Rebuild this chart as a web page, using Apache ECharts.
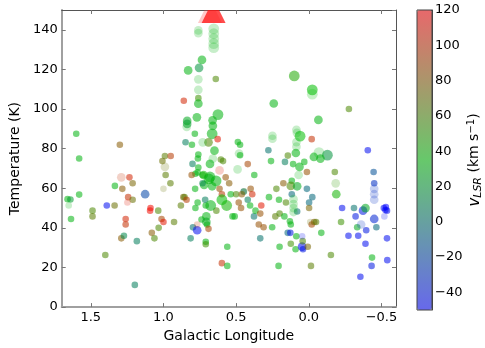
<!DOCTYPE html>
<html>
<head>
<meta charset="utf-8">
<script src="https://cdn.jsdelivr.net/npm/echarts@6/dist/echarts.min.js"></script>
<style>
  html, body { margin: 0; padding: 0; background: #fff; }
  #chart { width: 485px; height: 348px; }
</style>
</head>
<body>
<div id="chart"></div>
<script>
// rows: [galactic longitude (deg), temperature (K), v_LSR (km/s), mass class]
var detected = [
    [1.60, 87.5, 30, 1], [1.58, 75, 30, 1], [1.30, 82, 80, 1],
    [0.735, 124.8, 30, 2], [0.83, 119.5, 30, 2], [0.755, 120.8, 15, 2],
    [0.64, 115.2, 60, 1], [0.76, 105.5, 55, 1], [0.76, 102.7, 30, 2],
    [0.86, 104.2, 105, 1], [0.625, 97.2, 30, 3], [0.77, 95.8, 30, 2],
    [0.662, 94.3, 30, 2], [0.837, 94, 25, 2], [0.837, 92.5, 20, 2],
    [0.66, 91.5, 30, 2], [0.665, 87.5, 30, 3], [0.784, 87.5, 30, 1],
    [0.848, 83.2, 5, 1], [0.804, 82, 30, 1], [0.69, 83.2, 60, 2],
    [0.627, 84.8, 110, 1], [0.649, 79, 30, 2], [0.76, 77, 30, 1],
    [0.763, 75, 30, 1], [0.605, 74.5, 60, 1], [0.59, 73.7, 60, 1],
    [0.68, 72.3, 30, 2], [0.80, 72.3, 5, 1], [0.76, 70.5, 30, 1],
    [0.765, 68, 30, 1], [0.78, 67.3, 30, 1], [0.806, 66.7, 85, 1],
    [0.73, 66.7, 30, 1], [0.68, 65.7, 30, 3], [0.572, 65.5, 85, 1],
    [0.99, 76.3, 65, 1], [0.95, 76.3, 95, 1], [1.007, 73.7, 70, 1],
    [0.985, 66.7, 65, 1], [1.234, 65.5, 105, 1], [0.488, 83.3, 30, 1],
    [0.473, 82, 30, 1], [0.473, 76.7, 30, 1], [0.42, 72.2, 90, 1],
    [0.375, 66.7, 30, 1], [0.10, 116.7, 45, 3], [-0.024, 109.7, 35, 3],
    [0.241, 102.8, 30, 2], [-0.276, 100, 60, 1], [-0.066, 94.5, 30, 2],
    [0.06, 86.3, 35, 3], [-0.02, 84.8, 100, 1], [0.278, 79.2, 0, 1],
    [0.144, 76.5, 60, 1], [0.089, 77.8, 30, 2], [-0.035, 75.8, 30, 2],
    [-0.128, 76.7, 15, 3], [-0.08, 75, 30, 2], [-0.406, 79.2, -45, 1],
    [0.26, 73.7, 30, 1], [0.164, 73.3, 5, 1], [0.108, 72.2, 30, 1],
    [0.064, 70.8, 30, 2], [0.031, 73.3, 30, 1], [0.013, 68.2, 85, 1],
    [-0.179, 68.2, 60, 1], [-0.446, 68.2, -15, 1],
    [1.66, 54.5, 30, 1], [1.64, 54.3, 20, 1], [1.636, 44.5, 30, 1],
    [1.58, 56.8, 30, 1], [1.488, 48.7, 60, 1], [1.488, 45.8, 65, 1],
    [1.39, 51.3, -45, 1], [1.336, 51.3, 70, 1], [1.334, 61.2, 30, 1],
    [1.283, 59.7, 80, 1], [1.212, 62.5, 75, 1], [1.126, 57, -20, 2],
    [1.243, 55.5, 100, 1], [1.212, 54.2, 70, 1], [1.26, 44.5, 105, 1],
    [1.26, 41.7, 100, 1], [1.29, 34.7, 80, 1], [1.272, 36, 10, 1],
    [1.183, 33.3, 5, 1], [1.40, 26.3, 60, 1], [1.197, 11.2, 5, 1],
    [1.089, 50, 115, 1], [1.092, 48.7, 115, 1], [1.036, 48.7, 60, 1],
    [1.08, 37.5, 80, 1], [1.062, 34.7, 60, 1], [1.033, 40, 60, 1],
    [1.013, 44.5, 90, 1], [1.0, 43, 110, 1], [0.952, 62.5, 65, 1],
    [0.927, 43, 65, 1], [0.88, 51.3, 65, 1], [0.863, 55.5, 75, 1],
    [0.855, 55.5, 65, 1], [0.841, 54.2, 95, 1], [0.813, 34.7, 5, 1],
    [0.782, 59.7, 30, 1], [0.78, 50, 30, 1], [0.765, 52.8, 30, 1],
    [0.797, 40.3, 0, 1], [0.768, 38.8, -45, 2], [0.738, 44.2, 30, 1],
    [0.724, 66.7, 40, 2], [0.72, 61.7, 30, 2], [0.709, 51.3, 30, 1],
    [0.705, 45.8, 30, 2], [0.705, 43, 25, 2], [0.70, 41.7, 30, 1],
    [0.69, 39.5, 90, 1], [0.709, 33, 30, 1], [0.709, 31.7, 55, 1],
    [0.687, 64.7, 30, 3], [0.638, 63.7, 30, 3], [0.665, 61, 30, 2],
    [0.636, 48.7, 60, 1], [0.614, 59.7, 85, 1], [0.598, 57, 95, 1],
    [0.598, 54.2, 35, 3], [0.565, 51.3, 40, 3], [0.548, 62.5, 80, 1],
    [0.598, 22.2, 100, 1], [0.561, 30.5, 30, 1], [0.561, 20.8, 30, 1],
    [0.537, 57, 30, 1], [0.51, 45.8, 30, 1], [0.50, 57, 60, 1],
    [0.482, 52.8, 85, 1], [0.466, 50, 85, 1], [0.448, 58.3, 0, 1],
    [0.42, 54.2, 5, 1], [0.40, 59.7, 85, 1], [0.389, 57, 105, 1],
    [0.377, 45.8, 0, 1], [0.367, 48.7, 30, 1], [0.713, 54.2, 5, 1],
    [0.731, 62.5, 10, 1], [0.675, 51.3, 30, 3], [0.525, 45.8, 30, 1],
    [0.461, 57, 80, 1], [0.404, 51.3, 30, 1], [0.334, 47.2, 85, 1],
    [0.327, 51.3, 110, 1], [0.344, 41.7, 85, 1], [0.311, 40.3, 85, 1],
    [0.334, 34.7, 0, 1], [0.274, 55.5, 30, 1], [0.252, 40.3, 30, 1],
    [0.223, 59.7, 60, 1], [0.205, 54.2, 30, 1], [0.23, 45.8, 65, 1],
    [0.201, 47.2, 60, 1], [0.201, 30.5, 30, 1], [0.208, 20.8, 30, 1],
    [0.175, 62.5, 80, 1], [0.157, 52.8, 60, 1], [0.168, 45.8, 30, 1],
    [0.145, 37.5, -5, 1], [0.127, 37.5, -40, 1], [0.124, 32, 55, 1],
    [0.124, 41.7, 30, 1], [0.13, 43.3, 30, 1], [0.117, 57, -5, 1],
    [0.117, 63.8, 30, 1], [0.124, 61.2, 60, 2], [0.091, 29.2, 30, 1],
    [0.08, 61, 25, 2], [0.08, 48.3, 0, 1], [0.086, 35.8, 30, 1],
    [0.046, 30.5, -45, 2], [0.04, 29.2, -40, 1], [0.042, 33.3, 60, 1],
    [0.013, 59.7, -5, 1], [-0.002, 52.8, -5, 1], [-0.024, 55.5, -5, 1],
    [-0.002, 50, 75, 1], [0.007, 30.5, 75, 1], [-0.015, 20.8, 65, 1],
    [-0.02, 41.7, 90, 1], [-0.037, 43, 80, 1], [-0.05, 43, 65, 1],
    [-0.086, 37.5, 30, 1], [-0.152, 26.3, 60, 1], [-0.189, 57, 40, 2],
    [-0.222, 43, 55, 1], [-0.229, 50, -45, 1], [-0.273, 36, -45, 1],
    [-0.311, 50, 0, 1], [-0.322, 45.8, -40, 1], [-0.333, 40.3, 25, 1],
    [-0.34, 36, -45, 1], [-0.373, 48.7, -40, 2], [-0.39, 50, 25, 2],
    [-0.395, 38.8, -40, 1], [-0.39, 32, -45, 1], [-0.355, 15.3, -45, 1],
    [-0.435, 25, 30, 1], [-0.432, 20.8, -40, 1], [-0.45, 62.5, -30, 1],
    [-0.45, 44.5, -35, 2], [-0.465, 40.3, -5, 1], [-0.516, 50, -45, 1],
    [-0.527, 49, -50, 1], [-0.538, 48.7, -45, 1], [-0.53, 50.5, -50, 1],
    [-0.538, 34.7, -45, 1], [-0.54, 23.7, -45, 1]
];

// weak / tentative components, drawn fainter
var faint = [
    [0.76, 139.7, 30, 2], [0.76, 138.3, 30, 2], [0.654, 140.5, 30, 3],
    [0.654, 138, 30, 3], [0.654, 135.5, 30, 3], [0.654, 133, 30, 3],
    [0.654, 131, 30, 3], [0.76, 115, 30, 2], [0.76, 109.7, 30, 2],
    [0.84, 91, 30, 2], [0.73, 83.2, 30, 2], [0.66, 75, 30, 2],
    [0.614, 69, 110, 2], [0.99, 70.8, 70, 2], [1.29, 65.5, 100, 2],
    [0.48, 77.5, 30, 2], [0.49, 69.5, 30, 2], [-0.024, 107.5, 35, 3],
    [0.25, 86.5, 30, 2], [0.25, 85, 30, 2], [0.082, 88, 30, 2],
    [0.085, 89.5, 30, 2], [0.085, 81, 30, 2], [0.085, 83.3, 30, 2],
    [-0.07, 78, 30, 3], [1.652, 51.3, 30, 1], [1.248, 52.8, 110, 1],
    [1.0, 59.7, 70, 1], [0.768, 41.7, 100, 1], [0.445, 58.5, 60, 1],
    [0.105, 54.5, 30, 2], [0.105, 52, 30, 2], [0.105, 50, 30, 2],
    [0.105, 48, 30, 2], [0.046, 35.8, -45, 1], [-0.01, 43, 70, 1],
    [-0.185, 62.5, 50, 2], [-0.36, 41.7, -30, 2], [-0.45, 59.7, -30, 2],
    [-0.45, 57, -30, 2], [-0.45, 54.2, -30, 2], [-0.52, 45.8, -45, 1],
    [0.07, 66.7, 30, 2]
];

// off-scale hot cores (T > 150 K)
var peakLon = [0.68, 0.655];
var peakTemp = [150, 150];

var lonTicks = [-0.5, 0, 0.5, 1.0, 1.5];
var cbTicks = [-40, -20, 0, 20, 40, 60, 80, 100, 120];

function fmtLon(v) {
    return Number(v).toFixed(1).replace('-', '\u2212');
}
function fmtInt(v) {
    return String(v).replace('-', '\u2212');
}
function size(d) {
    return 4.5 + 2.1 * d[3];
}

var myChart = echarts.init(document.getElementById('chart'));

var option = {
    animation: false,
    textStyle: { fontFamily: 'DejaVu Sans', color: '#000' },
    grid: [
        { left: 47, right: 89, top: 10, bottom: 38 },
        { left: 417, width: 15, top: 10, height: 300, show: true, borderColor: '#444', borderWidth: 1, z: 10 }
    ],
    xAxis: [
        {
            gridIndex: 0, type: 'value', min: -0.6, max: 1.7, inverse: true,
            name: 'Galactic Longitude', nameLocation: 'middle', nameGap: 17,
            nameTextStyle: { fontSize: 14, color: '#000' },
            axisLine: { onZero: false, lineStyle: { color: '#a0a0a0', width: 2 } },
            axisTick: { inside: true, length: 4, customValues: lonTicks, lineStyle: { color: '#777' } },
            axisLabel: { margin: 4, fontSize: 13, color: '#000', customValues: lonTicks, formatter: fmtLon },
            splitLine: { show: false }
        },
        {
            gridIndex: 0, type: 'value', min: -0.6, max: 1.7, inverse: true, position: 'top',
            axisLine: { onZero: false, lineStyle: { color: '#555', width: 1 } },
            axisTick: { inside: true, length: 4, customValues: lonTicks, lineStyle: { color: '#777' } },
            axisLabel: { show: false },
            splitLine: { show: false }
        },
        { gridIndex: 1, type: 'value', min: 0, max: 1, show: false }
    ],
    yAxis: [
        {
            gridIndex: 0, type: 'value', min: 0, max: 150, interval: 20,
            name: 'Temperature (K)', nameLocation: 'middle', nameGap: 28, nameRotate: 90,
            nameTextStyle: { fontSize: 14, color: '#000' },
            axisLine: { show: true, onZero: false, lineStyle: { color: '#a0a0a0', width: 2 } },
            axisTick: { show: true, inside: true, length: 4, lineStyle: { color: '#777' } },
            axisLabel: { margin: 4, fontSize: 13, color: '#000', showMaxLabel: false },
            splitLine: { show: false }
        },
        {
            gridIndex: 0, type: 'value', min: 0, max: 150, interval: 20, position: 'right',
            axisLine: { show: true, onZero: false, lineStyle: { color: '#555', width: 1 } },
            axisTick: { show: true, inside: true, length: 4, lineStyle: { color: '#777' } },
            axisLabel: { show: false },
            splitLine: { show: false }
        },
        {
            gridIndex: 1, type: 'value', min: -50, max: 120, position: 'right',
            name: '{it|v}{sub|LSR} (km s{sup|\u22121})',
            nameLocation: 'middle', nameGap: 30, nameRotate: 90,
            nameTextStyle: {
                fontSize: 14, color: '#000',
                rich: {
                    it: { fontSize: 15, fontStyle: 'italic', fontFamily: 'DejaVu Sans' },
                    sub: { fontSize: 11, fontStyle: 'italic', fontFamily: 'DejaVu Sans', padding: [7, 0, 0, 0] },
                    sup: { fontSize: 10, fontFamily: 'DejaVu Sans', padding: [0, 0, 7, 0] }
                }
            },
            axisLine: { show: true, onZero: false, lineStyle: { color: '#444', width: 1 } },
            axisTick: { show: true, inside: true, length: 4, customValues: cbTicks, lineStyle: { color: '#444' } },
            axisLabel: { margin: 3, fontSize: 13, color: '#000', customValues: cbTicks, formatter: fmtInt },
            splitLine: { show: false }
        }
    ],
    visualMap: {
        type: 'continuous',
        min: -50,
        max: 120,
        dimension: 2,
        seriesIndex: [0, 1],
        left: 417,
        top: 10,
        padding: 0,
        itemWidth: 15,
        itemHeight: 300,
        calculable: false,
        hoverLink: false,
        inRange: {
            color: ['rgba(0,0,255,0.55)', 'rgba(0,190,0,0.55)', 'rgba(255,0,0,0.55)']
        },
        controller: {
            inRange: {
                color: ['rgba(0,0,255,0.5)', 'rgba(0,190,0,0.5)', 'rgba(255,0,0,0.5)']
            }
        }
    },
    series: [
        {
            type: 'scatter',
            xAxisIndex: 0,
            yAxisIndex: 0,
            data: detected,
            symbolSize: size,
            itemStyle: { opacity: 1 }
        },
        {
            type: 'scatter',
            xAxisIndex: 0,
            yAxisIndex: 0,
            data: faint,
            symbolSize: size,
            itemStyle: { opacity: 0.4 }
        },
        {
            type: 'scatter',
            xAxisIndex: 0,
            yAxisIndex: 0,
            clip: false,
            // clipped triangle: only the part below the frame top is drawn
            symbol: 'path://M6.5,0L17.5,0L24,13L0,13Z',
            symbolSize: [24, 13],
            symbolOffset: [0, 6.5],
            data: peakLon.map(function (x, i) {
                return {
                    value: [x, peakTemp[i]],
                    itemStyle: { color: i === 0 ? 'rgba(255,60,60,0.35)' : 'rgba(255,20,20,0.95)' }
                };
            }),
            z: 3
        }
    ]
};

myChart.setOption(option);
</script>
</body>
</html>
